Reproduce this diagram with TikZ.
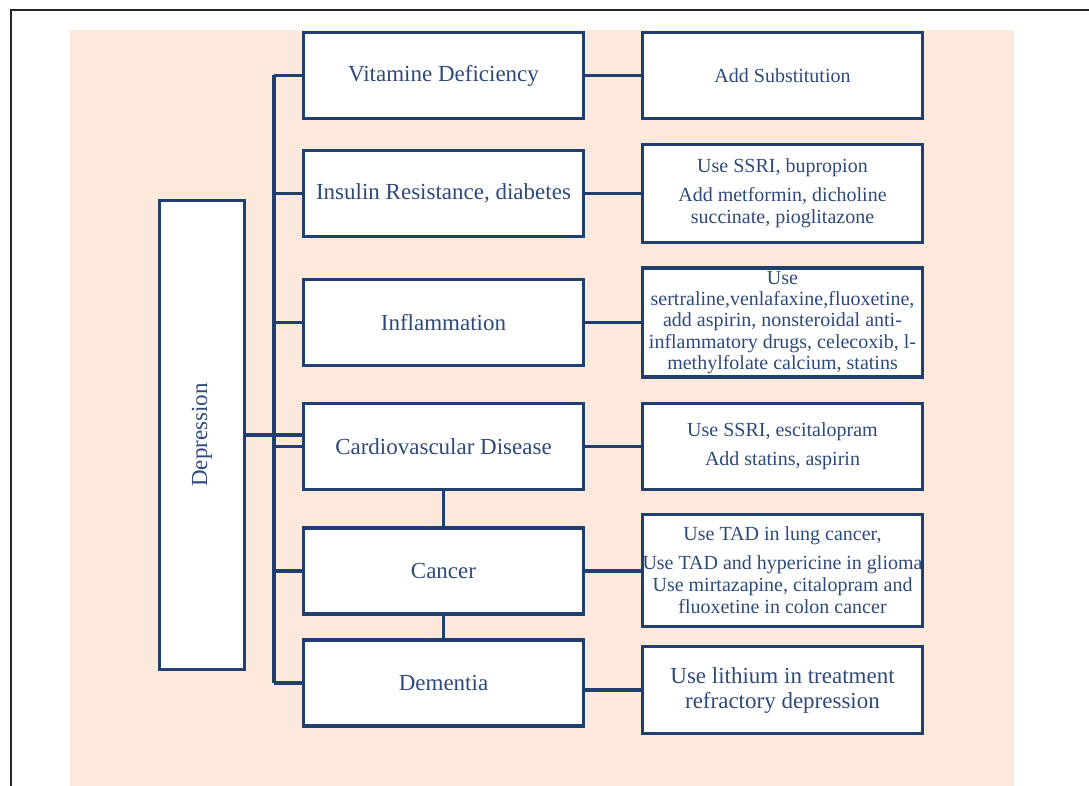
\documentclass[tikz,border=0pt]{standalone}
\usepackage{fontspec}
\setmainfont{Liberation Serif}
\newfontfamily\boxfont{Liberation Serif}
\definecolor{boxblue}{HTML}{1F3F6E}
\definecolor{txtblue}{HTML}{2E4A7C}
\definecolor{peach}{HTML}{FCE9DB}

\begin{document}
\begin{tikzpicture}[x=1pt,y=-1pt,
  box/.style={draw=boxblue,line width=3.6pt,fill=white,text=txtblue,inner sep=0pt,align=center,minimum width=280pt,minimum height=86pt},
  lbox/.style={box,font=\boxfont\fontsize{23}{25}\selectfont},
  rbox/.style={box,font=\boxfont\fontsize{20}{22}\selectfont},
  link/.style={draw=boxblue,line width=3.6pt}]
\useasboundingbox (0,0) rectangle (1089,786);
\begin{scope}
  \clip (0,0) rectangle (1089,786);
  \draw [line width=2.5pt,black!85] (11,10) rectangle (1120,830);
\end{scope}
\fill [peach] (70,30) rectangle (1014,786);
\coordinate (trunk) at (274,0);
% causes
\node [lbox] (vit) at (443.5,75.5) {Vitamine Deficiency};
\node [lbox] (ins) at (443.5,193.5) {Insulin Resistance, diabetes};
\node [lbox] (inf) at (443.5,322.5) {Inflammation};
\node [lbox] (car) at (443.5,446.5) {Cardiovascular Disease};
\node [lbox] (can) at (443.5,571) {Cancer};
\node [lbox] (dem) at (443.5,683) {Dementia};
\node [lbox,rotate=90,minimum width=469pt,minimum height=85pt] (dep) at (202,435) {Depression};
% treatments
\node [rbox] (sub) at (782.5,75.5) {Add Substitution};
\node [rbox,minimum height=98pt] (ssri) at (782.5,193.5) {Use SSRI, bupropion\\[7pt]Add metformin, dicholine\\succinate, pioglitazone};
\node [rbox,minimum height=109pt,font=\boxfont\fontsize{20}{21.3}\selectfont] (sert) at (782.5,322.5) {Use\\sertraline,venlafaxine,fluoxetine,\\add aspirin, nonsteroidal anti-\\inflammatory drugs, celecoxib, l-\\methylfolate calcium, statins};
\node [rbox] (esc) at (782.5,446.5) {Use SSRI, escitalopram\\[7pt]Add statins, aspirin};
\node [rbox,minimum height=112pt] (tad) at (782.5,570.5) {Use TAD in lung cancer,\\[7pt]Use TAD and hypericine in glioma\\Use mirtazapine, citalopram and\\fluoxetine in colon cancer};
\node [rbox,minimum height=87pt,font=\boxfont\fontsize{23}{25}\selectfont] (lit) at (782.5,690) {Use lithium in treatment\\refractory depression};
% links
\draw [link] (trunk |- vit.west) -- (trunk |- dem.west);
\foreach \n in {vit,ins,inf,car,can,dem}
  \draw [link] (trunk |- \n.west) -- (\n.west);
\draw [link] (dep.south) -- (dep.south -| car.west);
\draw [link] (vit) -- (sub);
\draw [link] (ins) -- (ssri);
\draw [link] (inf) -- (sert);
\draw [link] (car) -- (esc);
\draw [link] (can.east) -- (can.east -| tad.west);
\draw [link] (dem.east |- lit.west) -- (lit.west);
\draw [link] (car) -- (can);
\draw [link] (can) -- (dem);
\end{tikzpicture}
\end{document}
